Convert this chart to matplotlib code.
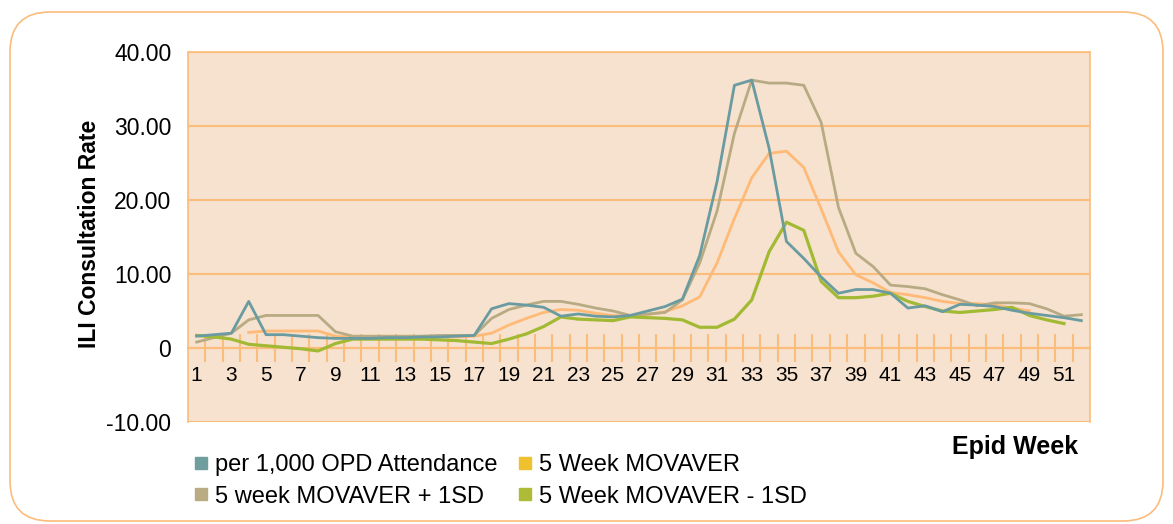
import numpy as np
import matplotlib.pyplot as plt
from matplotlib.patches import FancyBboxPatch
from matplotlib.lines import Line2D

nan = np.nan

# epid weeks 1..52
weeks = list(range(1, 53))

# per 1,000 OPD attendance
opd = [1.6, 1.8, 2.0, 6.3, 1.8, 1.8, 1.6, 1.4, 1.3, 1.3, 1.3, 1.4, 1.4, 1.5, 1.5, 1.6, 1.7,
       5.3, 6.0, 5.8, 5.5, 4.3, 4.6, 4.3, 4.2, 4.4, 5.0, 5.6, 6.6, 12.5, 22.5, 35.5, 36.2,
       27.0, 14.4, 12.1, 9.6, 7.4, 7.9, 7.9, 7.4, 5.4, 5.7, 4.9, 5.9, 5.8, 5.6, 5.1, 4.7,
       4.4, 4.1, 3.7]

# 5 week moving average
movaver = [nan, nan, nan, 2.1, 2.3, 2.3, 2.3, 2.3, 1.6, 1.4, 1.4, 1.4, 1.4, 1.5, 1.5, 1.5, 1.6,
           2.0, 3.1, 4.0, 4.8, 5.2, 5.1, 4.7, 4.4, 4.3, 4.5, 4.9, 5.7, 6.9, 11.5, 17.5, 23.0,
           26.3, 26.6, 24.4, 18.8, 13.0, 9.9, 8.8, 7.5, 7.2, 6.8, 6.3, 6.0, 6.0, 5.8, 5.4, 5.0,
           nan, nan, nan]

# moving average + 1SD
upper = [0.8, 1.4, 2.0, 3.8, 4.4, 4.4, 4.4, 4.4, 2.2, 1.6, 1.6, 1.6, 1.6, 1.6, 1.7, 1.7, 1.7,
         4.0, 5.2, 5.8, 6.3, 6.3, 5.9, 5.4, 5.0, 4.4, 4.6, 4.8, 6.5, 11.5, 18.5, 29.0, 36.2,
         35.8, 35.8, 35.5, 30.5, 19.0, 12.8, 11.0, 8.5, 8.3, 8.0, 7.2, 6.5, 5.7, 6.1, 6.1, 6.0,
         5.3, 4.3, 4.5]

# moving average - 1SD
lower = [1.7, 1.5, 1.2, 0.5, 0.3, 0.1, -0.1, -0.4, 0.6, 1.2, 1.2, 1.2, 1.2, 1.2, 1.1, 1.0, 0.8,
         0.6, 1.2, 1.9, 2.9, 4.2, 3.9, 3.8, 3.7, 4.2, 4.1, 4.0, 3.8, 2.8, 2.8, 3.9, 6.5,
         13.0, 17.0, 15.9, 9.0, 6.8, 6.8, 7.0, 7.4, 6.3, 5.6, 5.0, 4.8, 5.0, 5.2, 5.5, 4.4,
         3.8, 3.3, nan]

labels = ["per 1,000 OPD Attendance", "5 Week MOVAVER",
          "5 week MOVAVER + 1SD", "5 Week MOVAVER - 1SD"]

orange = "#FBBC7C"
fig = plt.figure(figsize=(11.73, 5.24), dpi=100)
plt.rcParams['font.family'] = ['Liberation Sans', 'DejaVu Sans']

# rounded frame around the whole chart
frame = FancyBboxPatch((10, 3), 1153, 509, boxstyle="round,pad=0,rounding_size=40",
                       transform=None, fill=False, edgecolor=orange, linewidth=1.2)
fig.patches.append(frame)

ax = fig.add_axes([188/1173, 1 - 422/524, 902/1173, 370/524])
ax.set_facecolor("#F6E2CE")

ax.plot(weeks, opd, color="#6A9BA1", lw=2.0, zorder=4)
ax.plot(weeks, movaver, color="#FFBA78", lw=2.0, zorder=3)
ax.plot(weeks, upper, color="#B8AB84", lw=2.0, zorder=3)
ax.plot(weeks, lower, color="#A2BA33", lw=2.3, zorder=3)

ax.set_xlim(0.5, 52.5)
ax.set_ylim(-10, 40)
ax.set_yticks([-10, 0, 10, 20, 30, 40])
ax.set_yticklabels(["-10.00", "0", "10.00", "20.00", "30.00", "40.00"])
ax.grid(axis='y', color=orange, lw=1.5)
ax.set_axisbelow(True)

for s in ax.spines.values():
    s.set_color(orange)
    s.set_linewidth(1.2)
ax.spines['bottom'].set_position(('data', 0))
ax.spines['bottom'].set_linewidth(1.5)

ax.set_xticks(weeks[::2])
ax.set_xticklabels([str(w) for w in weeks[::2]])
ax.set_xticks(np.arange(1.5, 52, 1), minor=True)
ax.tick_params(axis='x', which='major', length=0, pad=13, labelsize=15)
ax.tick_params(axis='x', which='minor', length=20, direction='inout', color=orange, width=1.5)
ax.tick_params(axis='y', length=0, pad=12, labelsize=16.5)

fig.text(90/1173, 1 - 234/524, "ILI Consultation Rate", rotation=90, ha='center', va='center',
         fontsize=16.5, fontweight='bold')
fig.text(1015/1173, 1 - 447/524, "Epid Week", ha='center', va='center',
         fontsize=18, fontweight='bold')

legend_colors = ["#6F9E9E", "#EFC12F", "#B9AC83", "#AEBB36"]
handles = [Line2D([], [], marker='s', linestyle='none', markersize=8, color=c) for c in legend_colors]
order = [0, 2, 1, 3]
fig.legend([handles[i] for i in order], [labels[i] for i in order], ncol=2,
           loc='upper left', bbox_to_anchor=(183/1173, 1 - 442/524), frameon=False,
           fontsize=17, handlelength=0.55, handletextpad=0.3, columnspacing=0.9,
           labelspacing=0.42, borderpad=0)

fig.savefig("out.png", dpi=100)
